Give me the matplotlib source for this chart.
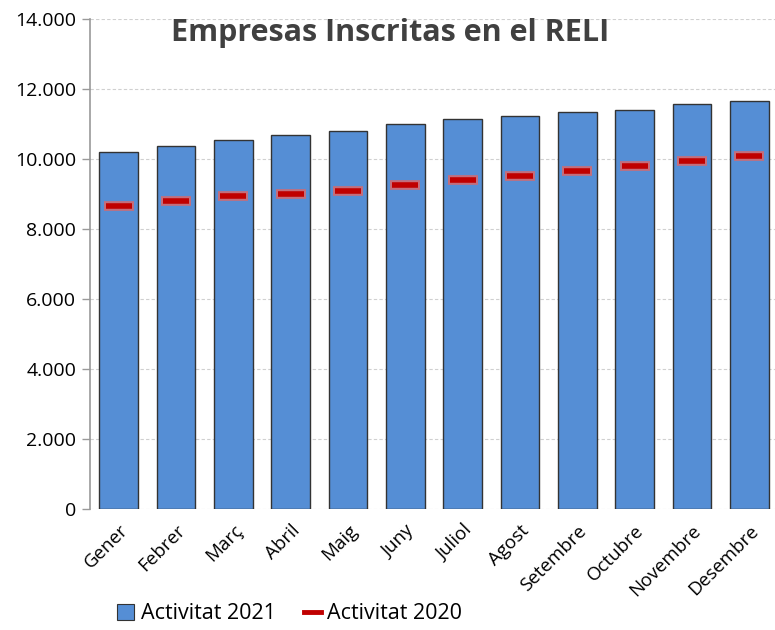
import matplotlib
matplotlib.use('Agg')
import matplotlib.pyplot as plt
from matplotlib.ticker import FuncFormatter
from matplotlib.lines import Line2D
from matplotlib.patches import Patch

months = ['Gener', 'Febrer', 'Març', 'Abril', 'Maig', 'Juny',
          'Juliol', 'Agost', 'Setembre', 'Octubre', 'Novembre', 'Desembre']
activitat_2021 = [10190, 10360, 10535, 10680, 10810, 10990,
                  11150, 11220, 11335, 11400, 11565, 11665]
activitat_2020 = [8650, 8800, 8935, 9000, 9085, 9265,
                  9400, 9505, 9650, 9790, 9950, 10085]

plt.rcParams['font.family'] = ['Open Sans', 'DejaVu Sans']

fig = plt.figure(figsize=(7.75, 6.3), dpi=100)
ax = fig.add_axes([90 / 775, 121 / 630, 688 / 775, 490 / 630])

x = range(len(months))
ax.bar(x, activitat_2021, width=0.675, color='#558ED5',
       edgecolor='#333333', linewidth=1.0, zorder=3)

# red dashes with a soft outline
ax.plot(x, activitat_2020, linestyle='none', marker='_', markersize=22,
        markeredgewidth=7, color='#E06666', alpha=0.8, zorder=4)
ax.plot(x, activitat_2020, linestyle='none', marker='_', markersize=19,
        markeredgewidth=4, color='#C00000', zorder=5)

ax.set_ylim(0, 14000)
ax.set_xlim(-0.5, 11.5)
ax.set_yticks(range(0, 14001, 2000))
ax.yaxis.set_major_formatter(FuncFormatter(lambda v, p: f'{int(v):,}'.replace(',', '.')))
ax.grid(axis='y', linestyle=(0, (3, 2)), color='#d0d0d0', linewidth=0.8, zorder=0)

ax.set_xticks(list(x))
ax.set_xticklabels(months, rotation=45, ha='right', rotation_mode='anchor', fontsize=13.5)
ax.tick_params(axis='x', length=0, pad=9)
ax.tick_params(axis='y', length=6, width=1, color='#999999', labelsize=14, pad=4)

for s in ['top', 'right', 'bottom']:
    ax.spines[s].set_visible(False)
ax.spines['left'].set_color('#999999')
ax.spines['left'].set_linewidth(1.2)

fig.text(0.503, 0.948, 'Empresas Inscritas en el RELI', ha='center', va='center',
         fontsize=22, fontweight='bold', color='#404040')

handles = [Patch(facecolor='#558ED5', edgecolor='#333333', linewidth=0.8),
           Line2D([0], [0], color='#C00000', linewidth=3.5)]
fig.legend(handles, ['Activitat 2021', 'Activitat 2020'], loc='lower left',
           bbox_to_anchor=(0.126, -0.022), ncol=2, frameon=False, fontsize=15.5,
           handlelength=0.8, handleheight=0.8, handletextpad=0.3, columnspacing=1.3)

fig.savefig('out.png', dpi=100)
